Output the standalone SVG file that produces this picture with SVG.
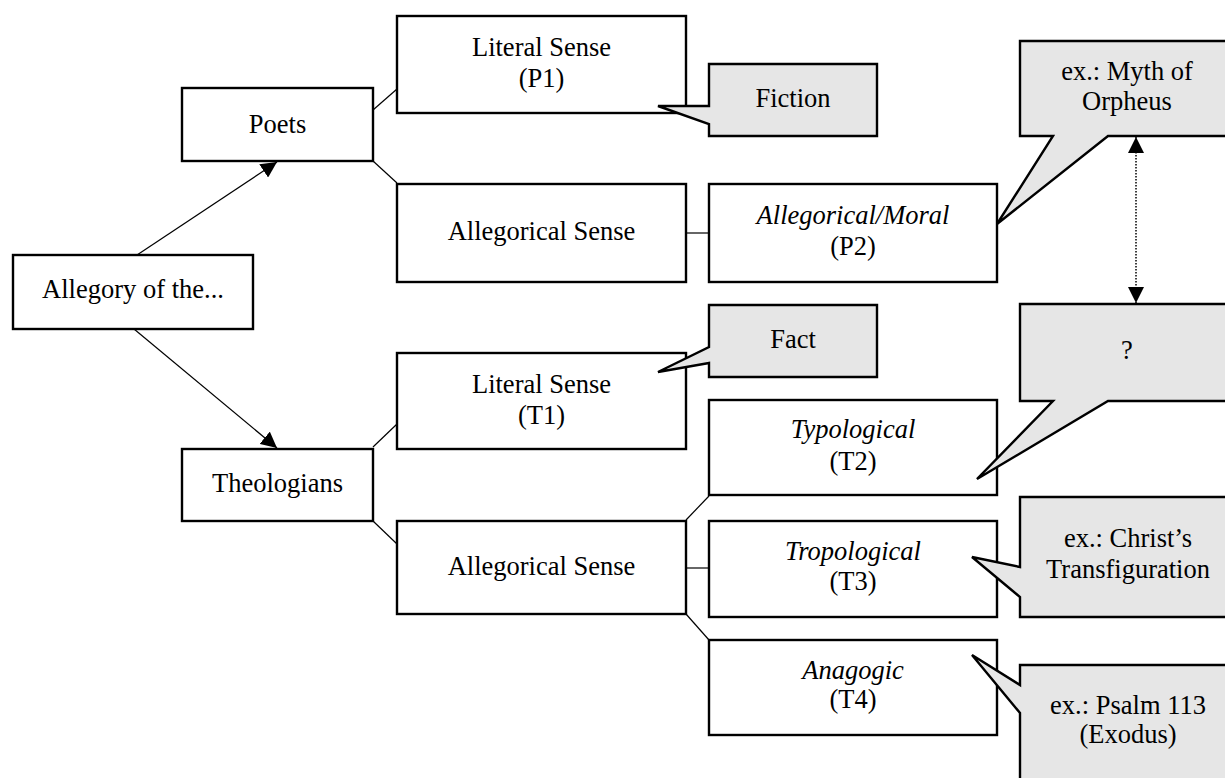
<svg xmlns="http://www.w3.org/2000/svg" width="1225" height="778" viewBox="0 0 1225 778">
<style>
.box{fill:#fff;stroke:#000;stroke-width:2.4}
.call{fill:#e6e6e6;stroke:#000;stroke-width:2.4;stroke-linejoin:miter}
.t{font-family:"Liberation Serif","Times New Roman",serif;font-size:26.5px;fill:#000;text-anchor:middle}
.i{font-style:italic}
.ln{stroke:#000;stroke-width:1.2;fill:none}
</style>
<defs>
<marker id="ah" viewBox="0 0 16 16" refX="16" refY="8" markerWidth="16" markerHeight="16" markerUnits="userSpaceOnUse" orient="auto-start-reverse">
<path d="M0,0 L16,8 L0,16 Z" fill="#000"/>
</marker>
</defs>
<rect width="1225" height="778" fill="#fff"/>
<g id="connectors">
<line class="ln" x1="137" y1="255" x2="277" y2="162" marker-end="url(#ah)"/>
<line class="ln" x1="134" y1="329" x2="277" y2="448" marker-end="url(#ah)"/>
<line class="ln" x1="373" y1="110" x2="397" y2="89"/>
<line class="ln" x1="373" y1="161" x2="397" y2="183"/>
<line class="ln" x1="686" y1="233" x2="709" y2="233"/>
<line class="ln" x1="373" y1="447" x2="397" y2="424"/>
<line class="ln" x1="373" y1="521" x2="397" y2="544"/>
<line class="ln" x1="686" y1="520" x2="709" y2="496"/>
<line class="ln" x1="686" y1="568" x2="709" y2="568"/>
<line class="ln" x1="686" y1="614" x2="709" y2="640"/>
<line x1="1136" y1="137" x2="1136" y2="303" stroke="#000" stroke-width="1.5" stroke-dasharray="1.5,1.5" marker-start="url(#ah)" marker-end="url(#ah)"/>
</g>
<g id="n-allegory"><rect class="box" x="13" y="255" width="240" height="74"/><text class="t" x="133" y="298">Allegory of the...</text></g>
<g id="n-poets"><rect class="box" x="182" y="88" width="191" height="73"/><text class="t" x="277.5" y="133">Poets</text></g>
<g id="n-theologians"><rect class="box" x="182" y="449" width="191" height="72"/><text class="t" x="277.5" y="492">Theologians</text></g>
<g id="n-p1"><rect class="box" x="397" y="16" width="289" height="97"/><text class="t" x="541.5" y="56">Literal Sense</text><text class="t" x="541.5" y="87">(P1)</text></g>
<g id="n-pallegorical"><rect class="box" x="397" y="184" width="289" height="98"/><text class="t" x="541.5" y="240">Allegorical Sense</text></g>
<g id="n-p2"><rect class="box" x="709" y="184" width="288" height="98"/><text class="t i" x="853" y="224">Allegorical/Moral</text><text class="t" x="853" y="255">(P2)</text></g>
<g id="n-t1"><rect class="box" x="397" y="353" width="289" height="96"/><text class="t" x="541.5" y="393">Literal Sense</text><text class="t" x="541.5" y="424">(T1)</text></g>
<g id="n-tallegorical"><rect class="box" x="397" y="521" width="289" height="93"/><text class="t" x="541.5" y="575">Allegorical Sense</text></g>
<g id="n-t2"><rect class="box" x="709" y="400" width="288" height="95"/><text class="t i" x="853" y="438">Typological</text><text class="t" x="853" y="470">(T2)</text></g>
<g id="n-t3"><rect class="box" x="709" y="521" width="288" height="96"/><text class="t i" x="853" y="560">Tropological</text><text class="t" x="853" y="590">(T3)</text></g>
<g id="n-t4"><rect class="box" x="709" y="640" width="288" height="95"/><text class="t i" x="853" y="679">Anagogic</text><text class="t" x="853" y="708">(T4)</text></g>
<g id="c-fiction"><path class="call" d="M709,64 L877,64 L877,136 L709,136 L709,124 L658,106 L709,106 Z"/><text class="t" x="793" y="107">Fiction</text></g>
<g id="c-fact"><path class="call" d="M709,305 L877,305 L877,377 L709,377 L709,363 L658,372 L709,347 Z"/><text class="t" x="793" y="348">Fact</text></g>
<g id="c-myth"><path class="call" d="M1020,41 L1235,41 L1235,136 L1108,136 L997,224 L1053,136 L1020,136 Z"/><text class="t" x="1127" y="80">ex.: Myth of</text><text class="t" x="1127" y="110">Orpheus</text></g>
<g id="c-question"><path class="call" d="M1020,304 L1235,304 L1235,401 L1108,401 L977,479 L1053,401 L1020,401 Z"/><text class="t" x="1127" y="359">?</text></g>
<g id="c-christ"><path class="call" d="M1020,497 L1235,497 L1235,617 L1020,617 L1020,597 L972,557 L1020,567 Z"/><text class="t" x="1128" y="547">ex.: Christ’s</text><text class="t" x="1128" y="578">Transfiguration</text></g>
<g id="c-psalm"><path class="call" d="M1020,665 L1235,665 L1235,790 L1020,790 L1020,713 L972,655 L1020,685 Z"/><text class="t" x="1128" y="714">ex.: Psalm 113</text><text class="t" x="1128" y="743">(Exodus)</text></g>
</svg>
